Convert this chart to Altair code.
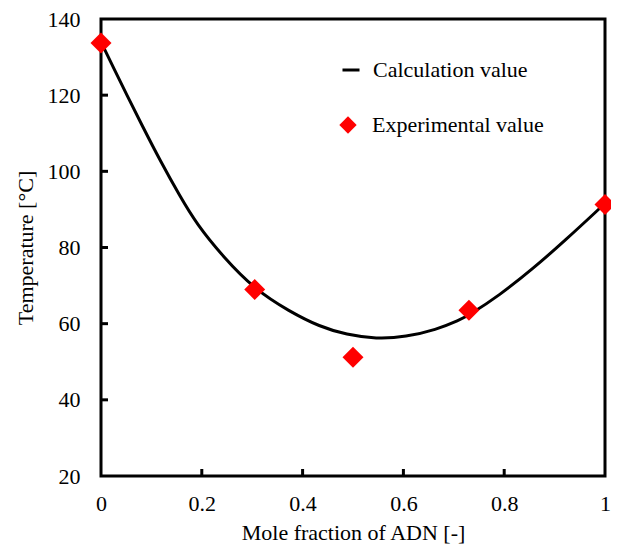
import altair as alt
import pandas as pd

# Calculated curve
calc_x = [0.0, 0.024, 0.051, 0.084, 0.117, 0.156, 0.19, 0.242, 0.305, 0.374,
          0.434, 0.487, 0.546, 0.605, 0.665, 0.711, 0.731, 0.79, 0.856, 0.922,
          0.988, 1.0]
calc_y = [134.0, 127.4, 120.1, 111.4, 102.9, 93.6, 86.1, 77.6, 69.0, 63.2,
          59.2, 57.1, 56.0, 56.5, 58.4, 60.9, 62.3, 67.4, 74.3, 82.0,
          90.1, 91.6]

# Experimental points
exp_x = [0.0, 0.305, 0.5, 0.73, 1.0]
exp_y = [133.7, 69.0, 51.2, 63.5, 91.3]

x_ticks = [0, 0.2, 0.4, 0.6, 0.8, 1]
y_ticks = [20, 40, 60, 80, 100, 120, 140]
x_inner_ticks = [0.2, 0.4, 0.6, 0.8]
y_inner_ticks = [40, 60, 80, 100, 120]

FONT = "Liberation Serif"
FS = 22

calc_df = pd.DataFrame({"x": calc_x, "y": calc_y, "series": "Calculation value"})
exp_df = pd.DataFrame({"x": exp_x, "y": exp_y, "kind": "Experimental value"})
xt_df = pd.DataFrame({"x": x_inner_ticks})
yt_df = pd.DataFrame({"y": y_inner_ticks})

xscale = alt.Scale(domain=[0, 1], nice=False, zero=False)
yscale = alt.Scale(domain=[20, 140], nice=False, zero=False)

xaxis = alt.Axis(values=x_ticks, title="Mole fraction of ADN [-]", labelExpr="datum.value",
                 ticks=False, tickSize=0, domain=False, grid=False, labelPadding=17,
                 titlePadding=8, labelFlush=False, labelFont=FONT, titleFont=FONT,
                 labelFontSize=FS, titleFontSize=FS, labelColor="black",
                 titleColor="black", titleFontWeight="normal")
yaxis = alt.Axis(values=y_ticks, title="Temperature [°C]", ticks=False, tickSize=0,
                 domain=False, grid=False, labelPadding=21, titlePadding=10,
                 labelFont=FONT, titleFont=FONT, labelFontSize=FS, titleFontSize=FS,
                 labelColor="black", titleColor="black", titleFontWeight="normal")

line = alt.Chart(calc_df).mark_line(strokeWidth=3, interpolate="basis").encode(
    x=alt.X("x:Q", scale=xscale, axis=xaxis),
    y=alt.Y("y:Q", scale=yscale, axis=yaxis),
    color=alt.Color("series:N",
                    scale=alt.Scale(domain=["Calculation value"], range=["black"]),
                    legend=alt.Legend(orient="none", legendX=239, legendY=40, title=None,
                                      symbolType="stroke", symbolStrokeWidth=3,
                                      symbolSize=290, labelFont=FONT, labelFontSize=FS,
                                      labelOffset=11, padding=0, labelLimit=400,
                                      labelColor="black")),
)

points = alt.Chart(exp_df).mark_point(filled=True, color="red", opacity=1, size=440,
                                      strokeWidth=0).encode(
    x=alt.X("x:Q", scale=xscale),
    y=alt.Y("y:Q", scale=yscale),
    shape=alt.Shape("kind:N",
                    scale=alt.Scale(domain=["Experimental value"], range=["diamond"]),
                    legend=alt.Legend(orient="none", legendX=236, legendY=95, title=None,
                                      symbolFillColor="red", symbolStrokeColor="red",
                                      symbolStrokeWidth=0, symbolOpacity=1,
                                      symbolSize=300, labelFont=FONT, labelFontSize=FS,
                                      labelOffset=13, padding=0, labelLimit=400,
                                      labelColor="black")),
)

xticks = alt.Chart(xt_df).mark_rule(color="black", strokeWidth=3).encode(
    x=alt.X("x:Q", scale=xscale),
    y=alt.value(457),
    y2=alt.value(450),
)
yticks = alt.Chart(yt_df).mark_rule(color="black", strokeWidth=3).encode(
    y=alt.Y("y:Q", scale=yscale),
    x=alt.value(0),
    x2=alt.value(7),
)

chart = alt.layer(line, points, xticks, yticks).properties(
    width=504, height=457,
    background="white",
    autosize=alt.AutoSizeParams(type="none"),
    padding={"left": 93, "top": 11, "right": 6, "bottom": 70},
).configure_view(
    stroke="black", strokeWidth=3
)

chart.save("out.html", embed_options={"renderer": "svg", "actions": False})
